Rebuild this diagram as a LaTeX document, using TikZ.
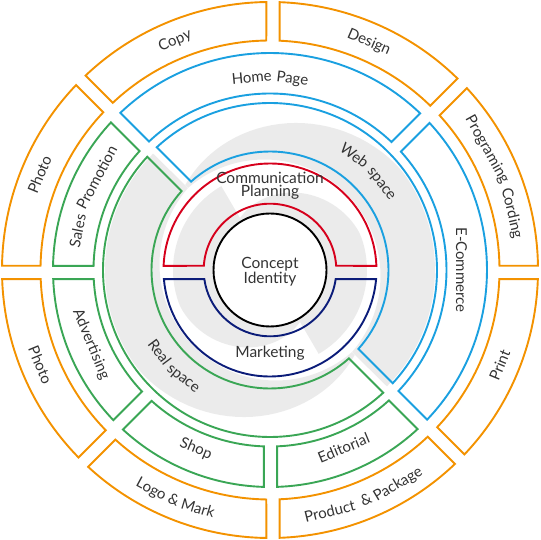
\documentclass[tikz,border=0pt]{standalone}
\usepackage{fontspec}
\setmainfont{Lato}
\definecolor{cOr}{HTML}{F39200}
\definecolor{cBl}{HTML}{1AA0E0}
\definecolor{cGr}{HTML}{3AA655}
\definecolor{cRd}{HTML}{D6001C}
\definecolor{cNv}{HTML}{0B1C79}
\definecolor{cTx}{HTML}{333333}
\definecolor{cSw}{HTML}{EBEBEB}
\newcommand\hg{6.7}
\newcommand\labf{\fontsize{15}{15}\selectfont}
% #1 style, #2 r1, #3 r2, #4 start angle, #5 end angle, #6 Px, #7 Py
\newcommand\ringseg[7]{%
  \pgfmathsetmacro\rsCa{-sin(#4)*(#6)+cos(#4)*(#7)+\hg}%
  \pgfmathsetmacro\rsCb{-sin(#5)*(#6)+cos(#5)*(#7)-\hg}%
  \pgfmathsetmacro\rsAo{#4+asin(\rsCa/#3)}%
  \pgfmathsetmacro\rsBo{#5+asin(\rsCb/#3)}%
  \pgfmathsetmacro\rsBi{#5+asin(\rsCb/#2)}%
  \pgfmathsetmacro\rsAi{#4+asin(\rsCa/#2)}%
  \draw[#1] (\rsAo:#3pt) arc[start angle=\rsAo, end angle=\rsBo, radius=#3pt]
    -- (\rsBi:#2pt) arc[start angle=\rsBi, end angle=\rsAi, radius=#2pt] -- cycle;}
% words of labels set along arcs; positions measured before the picture
% #1 key, #2 sign (-1 clockwise, +1 counter-clockwise), #3 baseline radius,
% #4 centre angle, #5 full label, #6 text before the word, #7 word
\newlength\wlA \newlength\wlB \newlength\wlC
\newcommand\wlpre[7]{%
  \settowidth\wlA{\labf #5}%
  \settowidth\wlB{\labf #6}%
  \settowidth\wlC{\labf #7}%
  \pgfmathsetmacro\wlS{\wlB+0.5*\wlC-0.5*\wlA}%
  \pgfmathsetmacro\wlT{#4+(#2)*\wlS/(#3)*180/pi}%
  \pgfmathsetmacro\wlR{\wlT+(#2)*90}%
  \expandafter\xdef\csname wlT#1\endcsname{\wlT}%
  \expandafter\xdef\csname wlR#1\endcsname{\wlR}%
  \expandafter\xdef\csname wlD#1\endcsname{#3}%
  \expandafter\gdef\csname wlX#1\endcsname{#7}}
\newcommand\wlnode[1]{%
  \edef\wlT{\csname wlT#1\endcsname}%
  \edef\wlR{\csname wlR#1\endcsname}%
  \edef\wlD{\csname wlD#1\endcsname}%
  \node[wordnode, rotate=\wlR] (#1) at (\wlT:\wlD pt) {\csname wlX#1\endcsname};}
\tikzset{
  segline/.style={line width=1.9pt, line join=miter},
  orseg/.style={segline, draw=cOr},
  blseg/.style={segline, draw=cBl},
  grseg/.style={segline, draw=cGr},
  rdseg/.style={segline, draw=cRd},
  nvseg/.style={segline, draw=cNv},
  wordnode/.style={font=\labf, text=cTx, anchor=base, inner sep=0pt},
  ctext/.style={font=\fontsize{15.5}{15.5}\selectfont, text=cTx, anchor=base, inner sep=0pt},
  declare function={
    swo(\t)=165-45*pow(max(1-min(\t/0.55,1),0.0001),1.3);
    swi(\t)=116-8*sin(\t*180);
    sio(\t)=97-37*pow(max(1-min(\t/0.55,1),0.0001),1.3);
  }
}
\begin{document}
%
\wlpre{copy}{-1}{244}{112.5}{Copy}{}{Copy}%
\wlpre{design}{-1}{244}{66.5}{Design}{}{Design}%
\wlpre{progA}{-1}{244}{22.5}{Programing Cording}{}{Programing}%
\wlpre{progB}{-1}{244}{22.5}{Programing Cording}{Programing\ }{Cording}%
\wlpre{photoA}{-1}{244}{157.5}{Photo}{}{Photo}%
\wlpre{print}{1}{254}{-22.5}{Print}{}{Print}%
\wlpre{prodA}{1}{254}{-67.5}{Product\ \ \& Package}{}{Product}%
\wlpre{prodB}{1}{254}{-67.5}{Product\ \ \& Package}{Product\ \ }{\&}%
\wlpre{prodC}{1}{254}{-67.5}{Product\ \ \& Package}{Product\ \ \&\ }{Package}%
\wlpre{logoA}{1}{254}{-112.5}{Logo \& Mark}{}{Logo}%
\wlpre{logoB}{1}{254}{-112.5}{Logo \& Mark}{Logo\ }{\&}%
\wlpre{logoC}{1}{254}{-112.5}{Logo \& Mark}{Logo \&\ }{Mark}%
\wlpre{photoB}{1}{254}{-157.5}{Photo}{}{Photo}%
\wlpre{homeA}{-1}{188}{90}{Home Page}{}{Home}%
\wlpre{homeB}{-1}{188}{90}{Home Page}{Home\ }{Page}%
\wlpre{ecom}{-1}{186}{0}{E-Commerce}{}{E-Commerce}%
\wlpre{salesA}{-1}{191}{157.5}{Sales Promotion}{}{Sales}%
\wlpre{salesB}{-1}{191}{157.5}{Sales Promotion}{Sales\ }{Promotion}%
\wlpre{adv}{1}{198}{-157.5}{Advertising}{}{Advertising}%
\wlpre{shop}{1}{198}{-112.5}{Shop}{}{Shop}%
\wlpre{edit}{1}{198}{-67.5}{Editorial}{}{Editorial}%
\wlpre{webA}{-1}{137}{45}{Web space}{}{Web}%
\wlpre{webB}{-1}{137}{45}{Web space}{Web\ }{space}%
\wlpre{realA}{1}{143}{-135}{Real space}{}{Real}%
\wlpre{realB}{1}{143}{-135}{Real space}{Real\ }{space}%
%
\begin{tikzpicture}
\useasboundingbox (-270pt,-270pt) rectangle (270pt,270pt);
% ---------- swirl background ----------
\begin{scope}[x=1pt, y=1pt]
  \foreach \rot in {0,180}{
    \fill[cSw, rotate=\rot]
      plot[domain=0:1, samples=60, variable=\t] ({135-180*\t}:{swo(\t)})
      -- plot[domain=1:0, samples=60, variable=\t] ({135-180*\t}:{swi(\t)}) -- cycle;
    \fill[cSw, rotate=\rot]
      plot[domain=0:1, samples=60, variable=\t] ({120-180*\t}:{sio(\t)})
      -- plot[domain=1:0, samples=2, variable=\t] ({120-180*\t}:{58}) -- cycle;
  }
\end{scope}
% ---------- outer orange ring ----------
\ringseg{orseg}{229.5}{268}{0}{45}{3}{-2.5}
\ringseg{orseg}{229.5}{268}{45}{90}{3}{-2.5}
\ringseg{orseg}{229.5}{268}{90}{135}{3}{-2.5}
\ringseg{orseg}{229.5}{268}{135}{180}{3}{-2.5}
\ringseg{orseg}{229.5}{268}{180}{225}{3}{-2.5}
\ringseg{orseg}{229.5}{268}{225}{270}{3}{-2.5}
\ringseg{orseg}{229.5}{268}{270}{315}{3}{-2.5}
\ringseg{orseg}{229.5}{268}{315}{360}{3}{-2.5}
% ---------- ring 4 ----------
\ringseg{blseg}{176.5}{217}{45}{135}{0.5}{-2.5}
\ringseg{blseg}{176.5}{217}{-45}{45}{0.5}{-2.5}
\ringseg{grseg}{176.5}{217}{135}{180}{0.5}{-2.5}
\ringseg{grseg}{176.5}{217}{180}{225}{0.5}{-2.5}
\ringseg{grseg}{176.5}{217}{225}{270}{0.5}{-2.5}
\ringseg{grseg}{176.5}{217}{270}{315}{0.5}{-2.5}
% ---------- ring 3 ----------
\ringseg{blseg}{118.5}{167}{-45}{135}{0}{0}
\ringseg{grseg}{118.5}{167}{135}{315}{0}{0}
% ---------- inner halves ----------
\ringseg{rdseg}{66.3}{106.5}{0}{180}{0}{-2.5}
\ringseg{nvseg}{66.3}{106.5}{180}{360}{0}{-2.5}
\draw[line width=1.9pt, fill=white] (0,0) circle[radius=56.5pt];
% ---------- ring labels ----------
\wlnode{copy}\wlnode{design}\wlnode{progA}\wlnode{progB}\wlnode{photoA}
\wlnode{print}\wlnode{prodA}\wlnode{prodB}\wlnode{prodC}
\wlnode{logoA}\wlnode{logoB}\wlnode{logoC}\wlnode{photoB}
\wlnode{homeA}\wlnode{homeB}\wlnode{ecom}\wlnode{salesA}\wlnode{salesB}
\wlnode{adv}\wlnode{shop}\wlnode{edit}
\wlnode{webA}\wlnode{webB}\wlnode{realA}\wlnode{realB}
% ---------- centre labels ----------
\node[ctext] (comm) at (0pt,86pt) {Communication};
\node[ctext] (plan) at (0pt,73.3pt) {Planning};
\node[ctext] (conc) at (0pt,1.7pt) {Concept};
\node[ctext] (iden) at (0pt,-13.3pt) {Identity};
\node[ctext] (mark) at (0pt,-87.3pt) {Marketing};
\end{tikzpicture}
\end{document}
